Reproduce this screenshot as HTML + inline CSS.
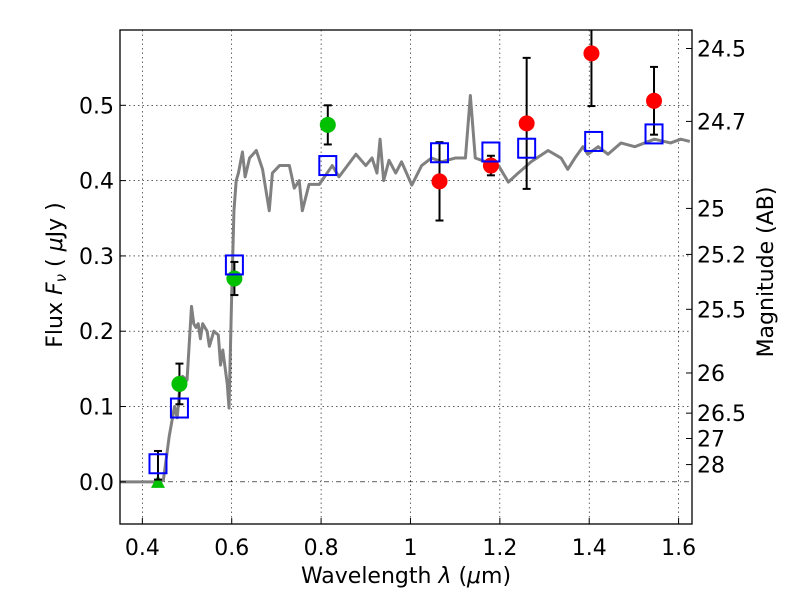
<!DOCTYPE html>
<html><head><meta charset="utf-8">
<style>
body{margin:0;background:#fff;}
svg{display:block;font-family:"DejaVu Sans","Liberation Sans",sans-serif;}
</style></head>
<body>
<svg id="chart" width="800" height="600" viewBox="0 0 800 600" xmlns="http://www.w3.org/2000/svg">
<rect width="800" height="600" fill="#fff"/>
<g id="grid"></g>
<g id="marks"></g>
<g id="axes"></g>
<text x="406" y="583" font-size="22" text-anchor="middle">Wavelength  <tspan font-style="italic">λ</tspan> (<tspan font-style="italic">μ</tspan>m)</text>
<text transform="translate(62,275) rotate(-90)" font-size="22" text-anchor="middle">Flux  <tspan font-style="italic">F<tspan font-size="15" dy="4">ν</tspan></tspan><tspan dy="-4">  ( </tspan><tspan font-style="italic">μ</tspan>Jy )</text>
<text transform="translate(773,272) rotate(-90)" font-size="22" text-anchor="middle">Magnitude (AB)</text>
</svg>
<script>
const xTicks=[0.4,0.6,0.8,1.0,1.2,1.4,1.6];
const xTickLabels=["0.4","0.6","0.8","1","1.2","1.4","1.6"];
const yTicks=[0,0.1,0.2,0.3,0.4,0.5];
const yTickLabels=["0.0","0.1","0.2","0.3","0.4","0.5"];
const magTicks=[24.5,24.7,25,25.2,25.5,26,26.5,27,28];
const magTickLabels=["24.5","24.7","25","25.2","25.5","26","26.5","27","28"];
const specWave=[0.35,0.44,0.447,0.46,0.472,0.478,0.483,0.49,0.5,0.51,0.515,0.52,0.525,0.53,0.535,0.545,0.55,0.56,0.57,0.575,0.58,0.59,0.594,0.60,0.605,0.61,0.615,0.624,0.63,0.64,0.655,0.669,0.684,0.691,0.707,0.729,0.74,0.751,0.758,0.773,0.796,0.825,0.84,0.878,0.90,0.914,0.925,0.932,0.94,0.952,0.967,0.98,1.003,1.025,1.047,1.07,1.1,1.123,1.134,1.145,1.168,1.197,1.219,1.241,1.27,1.308,1.337,1.352,1.368,1.386,1.397,1.42,1.442,1.471,1.502,1.546,1.582,1.605,1.625];
const specFlux=[0,0,0.002,0.06,0.1,0.085,0.12,0.14,0.135,0.233,0.21,0.205,0.21,0.19,0.21,0.2,0.18,0.2,0.195,0.155,0.175,0.13,0.098,0.25,0.36,0.4,0.41,0.438,0.405,0.43,0.44,0.415,0.36,0.41,0.42,0.42,0.39,0.4,0.36,0.395,0.395,0.42,0.405,0.435,0.42,0.43,0.41,0.455,0.4,0.427,0.41,0.425,0.394,0.42,0.43,0.425,0.43,0.43,0.513,0.43,0.425,0.42,0.398,0.41,0.425,0.44,0.43,0.415,0.43,0.445,0.435,0.445,0.435,0.45,0.445,0.455,0.45,0.455,0.452];
const modelWave=[0.435,0.483,0.606,0.815,1.065,1.18,1.26,1.41,1.545];
const modelFlux=[0.024,0.098,0.288,0.42,0.437,0.438,0.443,0.452,0.462];
const greenWave=[0.483,0.606,0.815];
const greenFlux=[0.13,0.27,0.474];
const greenErr=[0.027,0.022,0.026];
const redWave=[1.065,1.18,1.26,1.405,1.545];
const redFlux=[0.399,0.42,0.476,0.569,0.506];
const redErr=[0.052,0.013,0.087,0.07,0.045];
const limitWave=[0.435];
const limitFlux=[0.0];
const limitLo=[0.003];
const limitHi=[0.041];

const L=120,R=692,T=30,B=524,XMIN=0.35,XMAX=1.63,YMIN=-0.056,YMAX=0.6;
const X=v=>L+(v-XMIN)/(XMAX-XMIN)*(R-L);
const Y=v=>B-(v-YMIN)/(YMAX-YMIN)*(B-T);
const NS="http://www.w3.org/2000/svg";
function mk(tag,attrs,parent,text){const e=document.createElementNS(NS,tag);for(const k in attrs)e.setAttribute(k,attrs[k]);if(text!==undefined)e.textContent=text;parent.appendChild(e);return e;}
const grid=document.getElementById('grid'),marks=document.getElementById('marks'),axes=document.getElementById('axes');

xTicks.forEach((t,i)=>{
  const g=mk('line',{x1:X(t),x2:X(t),y1:T,y2:B,stroke:'#000','stroke-width':0.6,'stroke-dasharray':'1.5,3'},grid);
  
  
  const tk=mk('line',{x1:X(t),x2:X(t),y1:B,y2:B-6,stroke:'#000'},axes);
  
  
  const lb=mk('text',{x:X(t),y:B+31,'font-size':22,'text-anchor':'middle'},axes,xTickLabels[i]);
  
  
});
yTicks.forEach((t,i)=>{
  const g=mk('line',{x1:L,x2:R,y1:Y(t),y2:Y(t),stroke:'#000','stroke-width':0.6,'stroke-dasharray':t===0?'5,3,1,3':'1.5,3'},grid);
  
  
  const tk=mk('line',{x1:L,x2:L+6,y1:Y(t),y2:Y(t),stroke:'#000'},axes);
  
  
  const lb=mk('text',{x:L-6,y:Y(t)+8,'font-size':22,'text-anchor':'end'},axes,yTickLabels[i]);
  
  
});
magTicks.forEach((m,i)=>{
  const f=Math.pow(10,(23.9-m)/2.5);
  const tk=mk('line',{x1:R,x2:R-6,y1:Y(f),y2:Y(f),stroke:'#000'},axes);
  
  
  const lb=mk('text',{x:R+5,y:Y(f)+8,'font-size':22},axes,magTickLabels[i]);
  
  
});
const fr=mk('rect',{x:L,y:T,width:R-L,height:B-T,fill:'none',stroke:'#000','stroke-width':1.3},axes);



const sp=mk('polyline',{points:specWave.map((w,i)=>X(w)+','+Y(specFlux[i])).join(' '),fill:'none',stroke:'#808080','stroke-width':3,'stroke-linejoin':'round'},marks);



function errbar(x,lo,hi){
  const g=mk('g',{stroke:'#000','stroke-width':2},marks);
  
  
  const y1=Math.max(Y(hi),T),y2=Y(lo);
  mk('line',{x1:X(x),x2:X(x),y1:y1,y2:y2},g);
  if(Y(hi)>=T)mk('line',{x1:X(x)-4,x2:X(x)+4,y1:y1,y2:y1},g);
  mk('line',{x1:X(x)-4,x2:X(x)+4,y1:y2,y2:y2},g);
}
limitWave.forEach((w,i)=>{
  const t=mk('polygon',{points:`${X(w)},${Y(limitFlux[i])-7} ${X(w)-7},${Y(limitFlux[i])+6} ${X(w)+7},${Y(limitFlux[i])+6}`,fill:'#00c000'},marks);
  
  
  errbar(w,limitLo[i],limitHi[i]);
});
greenWave.forEach((w,i)=>{
  errbar(w,greenFlux[i]-greenErr[i],greenFlux[i]+greenErr[i]);
  const c=mk('circle',{cx:X(w),cy:Y(greenFlux[i]),r:8,fill:'#00c000'},marks);
  
  
});
redWave.forEach((w,i)=>{
  errbar(w,redFlux[i]-redErr[i],redFlux[i]+redErr[i]);
  const c=mk('circle',{cx:X(w),cy:Y(redFlux[i]),r:8,fill:'#ff0000'},marks);
  
  
});
modelWave.forEach((w,i)=>{
  const s=mk('rect',{x:X(w)-8.5,y:Y(modelFlux[i])-9.5,width:17,height:19,fill:'none',stroke:'#0000ff','stroke-width':2},marks);
  
  
});
</script>
</body></html>
